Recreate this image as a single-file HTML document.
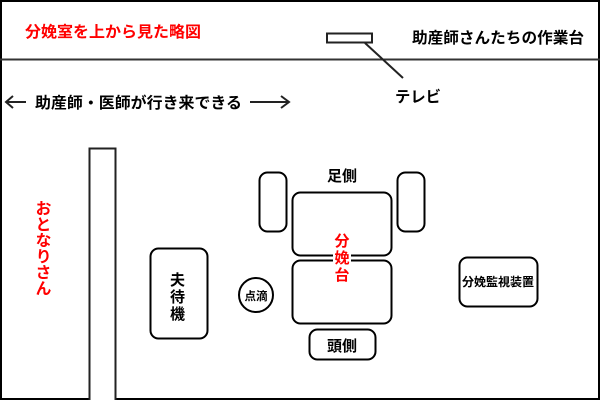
<!DOCTYPE html>
<html><head><meta charset="utf-8"><style>
body{margin:0;width:600px;height:400px;overflow:hidden;background:#fff}
svg text{font-family:"Liberation Sans","Noto Sans CJK JP",sans-serif;font-weight:bold}
</style></head><body>
<svg width="600" height="400" xmlns="http://www.w3.org/2000/svg">
<rect x="1" y="1" width="598" height="398" fill="#fff" stroke="#000" stroke-width="2"/>
<line x1="0" y1="59.5" x2="600" y2="59.5" stroke="#333" stroke-width="2"/>
<text x="25" y="37" font-size="15.5" fill="#f00" textLength="176" lengthAdjust="spacingAndGlyphs">分娩室を上から見た略図</text>
<text x="412" y="43" font-size="15.5" fill="#000" textLength="172" lengthAdjust="spacingAndGlyphs">助産師さんたちの作業台</text>
<rect x="327" y="33.5" width="45" height="9" fill="#fff" stroke="#222" stroke-width="2"/>
<line x1="365" y1="43" x2="403" y2="78" stroke="#222" stroke-width="2"/>
<text x="395" y="102" font-size="15.5" textLength="46" lengthAdjust="spacingAndGlyphs">テレビ</text>
<path d="M6 102 H26 M13 96 L6 102 L13 108" fill="none" stroke="#222" stroke-width="2"/>
<text x="35" y="108" font-size="15.5" textLength="207" lengthAdjust="spacingAndGlyphs">助産師・医師が行き来できる</text>
<path d="M250 102 H289 M281 96 L289 102 L281 108" fill="none" stroke="#222" stroke-width="2"/>
<rect x="89.5" y="148.5" width="26" height="260" fill="#fff" stroke="#222" stroke-width="2"/>
<text font-size="16" fill="#f00" x="41" y="200" writing-mode="tb">おとなりさん</text>
<g fill="#fff" stroke="#000" stroke-width="2">
<rect x="150.5" y="248.5" width="57" height="90" rx="8"/>
<circle cx="256" cy="295" r="17"/>
<rect x="259.5" y="172.5" width="27" height="59" rx="8"/>
<rect x="397.5" y="172.5" width="27" height="59" rx="8"/>
<rect x="292.5" y="192.5" width="99" height="63" rx="8"/>
<rect x="292.5" y="260.5" width="99" height="63" rx="8"/>
<rect x="309.5" y="329.5" width="66" height="30" rx="8"/>
<rect x="459.5" y="257.5" width="78" height="49" rx="8"/>
</g>
<text x="170" y="285" font-size="15">夫</text>
<text x="170" y="302" font-size="15">待</text>
<text x="170" y="319" font-size="15">機</text>
<text x="256" y="300" font-size="11.5" text-anchor="middle">点滴</text>
<text x="342" y="181" font-size="15" text-anchor="middle">足側</text>
<text x="342" y="351" font-size="15" text-anchor="middle">頭側</text>
<text x="498" y="286" font-size="12" text-anchor="middle">分娩監視装置</text>
<rect x="333" y="230" width="18" height="50" fill="#fff"/>
<text x="342" y="246" font-size="15" fill="#f00" text-anchor="middle">分</text>
<text x="342" y="263" font-size="15" fill="#f00" text-anchor="middle">娩</text>
<text x="342" y="280" font-size="15" fill="#f00" text-anchor="middle">台</text>
</svg>
</body></html>
